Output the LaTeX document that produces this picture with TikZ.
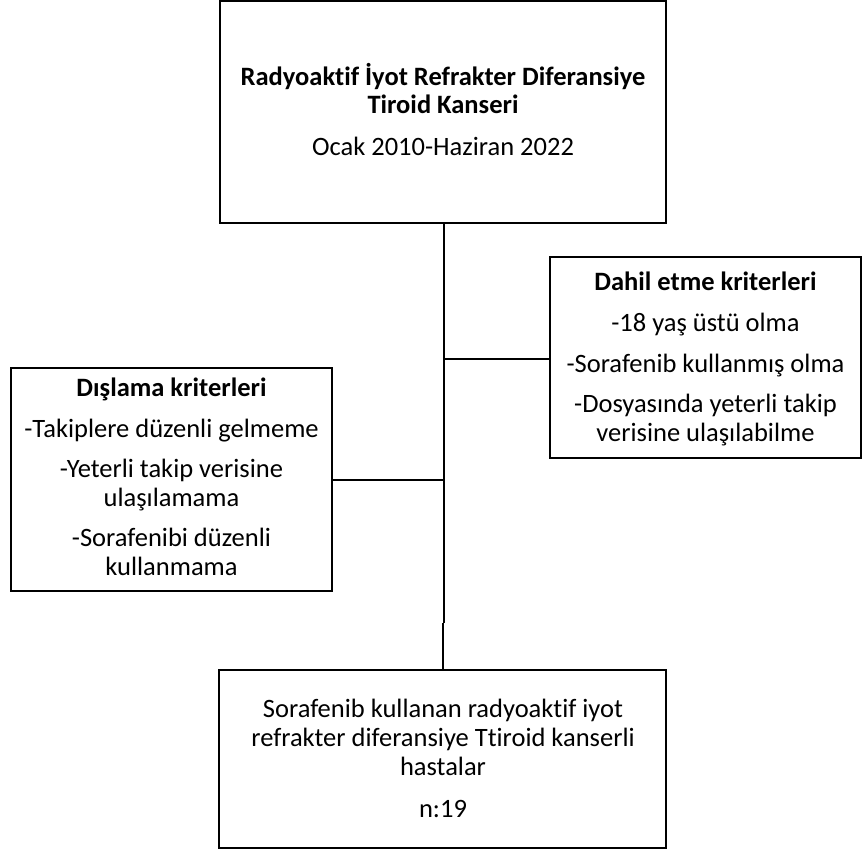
\documentclass[tikz,border=0pt]{standalone}
\usepackage{fontspec}
\setmainfont[RawFeature={-liga;-clig}]{Carlito}
\begin{document}
\begin{tikzpicture}[x=1pt,y=-1pt,
  box/.style={draw=black,line width=2pt,rectangle,inner sep=0pt},
  txt/.style={anchor=base,inner sep=0pt,font=\fontsize{26.5}{30}\selectfont},
  btxt/.style={txt,font=\fontsize{26.5}{30}\selectfont\bfseries},
  link/.style={draw=black,line width=2pt}]
\useasboundingbox (0,0) rectangle (865,852);
% boxes
\node[box,minimum width=446pt,minimum height=222pt] (top) at (443,112) {};
\node[box,minimum width=311pt,minimum height=201pt] (rbox) at (705.5,357.5) {};
\node[box,minimum width=321pt,minimum height=223pt] (lbox) at (171.5,479.5) {};
\node[box,minimum width=447pt,minimum height=178pt] (bot) at (442.5,759) {};
% top text
\node[btxt] (t1) at (443,85) {Radyoaktif İyot Refrakter Diferansiye};
\node[btxt] (t2) at (443,113) {Tiroid Kanseri};
\node[txt] (t3) at (443,155) {Ocak 2010-Haziran 2022};
% right text
\node[btxt] (r1) at (705.5,290) {Dahil etme kriterleri};
\node[txt] (r2) at (705.5,331) {-18 yaş üstü olma};
\node[txt] (r3) at (705.5,372) {-Sorafenib kullanmış olma};
\node[txt] (r4) at (705.5,412) {-Dosyasında yeterli takip};
\node[txt] (r5) at (705.5,441) {verisine ulaşılabilme};
% left text
\node[btxt] (l1) at (171.5,396) {Dışlama kriterleri};
\node[txt] (l2) at (171.5,437) {-Takiplere düzenli gelmeme};
\node[txt] (l3) at (171.5,477) {-Yeterli takip verisine};
\node[txt] (l4) at (171.5,506) {ulaşılamama};
\node[txt] (l5) at (171.5,546) {-Sorafenibi düzenli};
\node[txt] (l6) at (171.5,575) {kullanmama};
% bottom text
\node[txt] (b1) at (443,717) {Sorafenib kullanan radyoaktif iyot};
\node[txt] (b2) at (443,746) {refrakter diferansiye Ttiroid kanserli};
\node[txt] (b3) at (443,775) {hastalar};
\node[txt] (b4) at (443,817) {n:19};
% connectors
\coordinate (jr) at (443,359);
\coordinate (jl) at (443,480);
\coordinate (jog) at (443.5,623);
\draw[link] (top.south -| jog) -- (jog);
\draw[link] (jog -| bot.north) -- (bot.north);
\draw[link] (jr) -- (jr -| rbox.west);
\draw[link] (jl) -- (jl -| lbox.east);
\end{tikzpicture}
\end{document}
